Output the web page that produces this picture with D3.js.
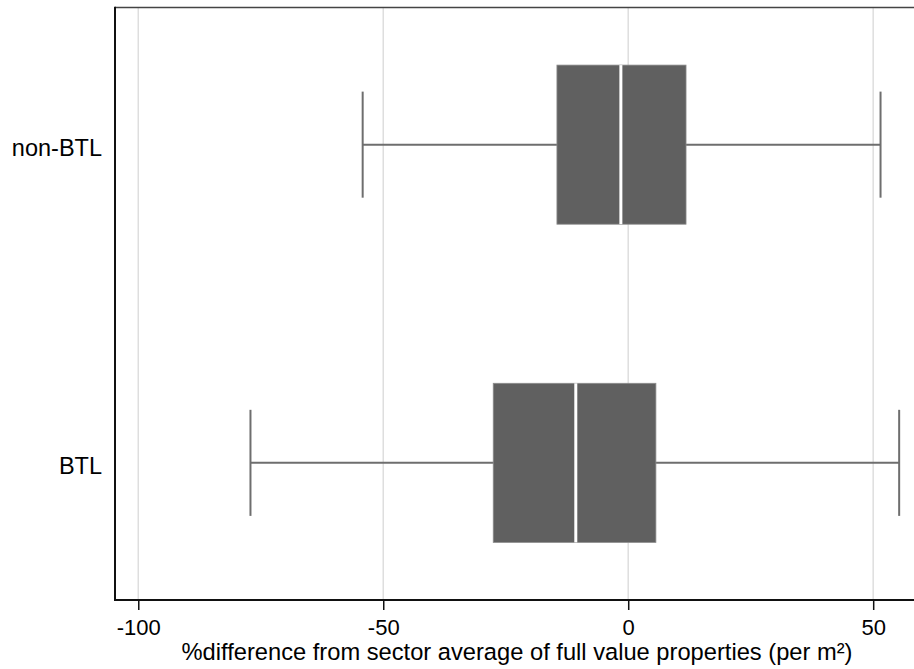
<!DOCTYPE html>
<html><head><meta charset="utf-8">
<script src="https://cdn.jsdelivr.net/npm/d3@7"></script>
<style>body{margin:0;background:#fff}svg{display:block}text{font-family:"Liberation Sans",Arial,sans-serif}</style>
</head><body>
<svg id="c" width="914" height="669"></svg>
<script>
const categories = ["non-BTL", "BTL"];
const lowerWhisker = [-54.2, -77.1];
const q1 = [-14.55, -27.55];
const median = [-1.5, -10.7];
const q3 = [11.8, 5.65];
const upperWhisker = [51.5, 55.3];
const xTicks = [-100, -50, 0, 50];
const xTitle = "%difference from sector average of full value properties (per m²)";

const data = categories.map((c, i) => ({cat: c, lw: lowerWhisker[i], q1: q1[i], med: median[i], q3: q3[i], uw: upperWhisker[i]}));

const svg = d3.select("#c");
const L = 115, T = 7.5, B = 600, R = 919;
const x = d3.scaleLinear().domain([-104.75, 59.35]).range([L, R]);
const y = d3.scalePoint().domain(categories).range([T, B]).padding(0.431);
const step = y.step();

// gridlines
svg.append("g").selectAll("line").data(xTicks).join("line")
  .attr("x1", d => x(d)).attr("x2", d => x(d)).attr("y1", T).attr("y2", B)
  .attr("stroke", "#dedede").attr("stroke-width", 1.5);

const g = svg.append("g").selectAll("g").data(data).join("g");
// whiskers
g.append("line").attr("x1", d => x(d.lw)).attr("x2", d => x(d.uw))
  .attr("y1", d => y(d.cat)).attr("y2", d => y(d.cat))
  .attr("stroke", "#6e6e6e").attr("stroke-width", 2);
g.selectAll(".cap").data(d => [[d.lw, d.cat], [d.uw, d.cat]]).join("line")
  .attr("x1", d => x(d[0])).attr("x2", d => x(d[0]))
  .attr("y1", d => y(d[1]) - step / 6).attr("y2", d => y(d[1]) + step / 6)
  .attr("stroke", "#6e6e6e").attr("stroke-width", 2);
// box
g.append("rect").attr("x", d => x(d.q1)).attr("width", d => x(d.q3) - x(d.q1))
  .attr("y", d => y(d.cat) - step / 4).attr("height", step / 2)
  .attr("fill", "#606060").attr("stroke", "#8c8c8c").attr("stroke-width", 0.8);
// median
g.append("line").attr("x1", d => x(d.med)).attr("x2", d => x(d.med))
  .attr("y1", d => y(d.cat) - step / 4).attr("y2", d => y(d.cat) + step / 4)
  .attr("stroke", "#ffffff").attr("stroke-width", 3);

// frame: top
svg.append("line").attr("x1", L).attr("x2", 914).attr("y1", T).attr("y2", T).attr("stroke", "#444").attr("stroke-width", 1.5);

const xAxis = svg.append("g").attr("transform", `translate(0,${B})`)
  .call(d3.axisBottom(x).tickValues(xTicks).tickSize(10).tickPadding(0).tickFormat(d => String(d)));
xAxis.select(".domain").remove();
xAxis.selectAll(".tick line").attr("stroke", "#111").attr("stroke-width", 1.5);
xAxis.selectAll(".tick text").attr("font-size", 22).attr("fill", "#000").attr("dy", null).attr("y", 35);
svg.append("line").attr("x1", L).attr("x2", 914).attr("y1", B).attr("y2", B).attr("stroke", "#111").attr("stroke-width", 2);

const yAxis = svg.append("g").attr("transform", `translate(${L},0)`)
  .call(d3.axisLeft(y).tickSize(0).tickPadding(13));
yAxis.select(".domain").remove();
yAxis.selectAll(".tick text").attr("font-size", 23.5).attr("fill", "#000").attr("dy", null).attr("y", 10.7);
svg.append("line").attr("x1", L).attr("x2", L).attr("y1", T - 0.75).attr("y2", B + 1).attr("stroke", "#111").attr("stroke-width", 2);

svg.append("text").attr("x", (L + R) / 2).attr("y", 660).attr("text-anchor", "middle")
  .attr("font-size", 23.7).attr("fill", "#000").text(xTitle);
</script>
</body></html>
